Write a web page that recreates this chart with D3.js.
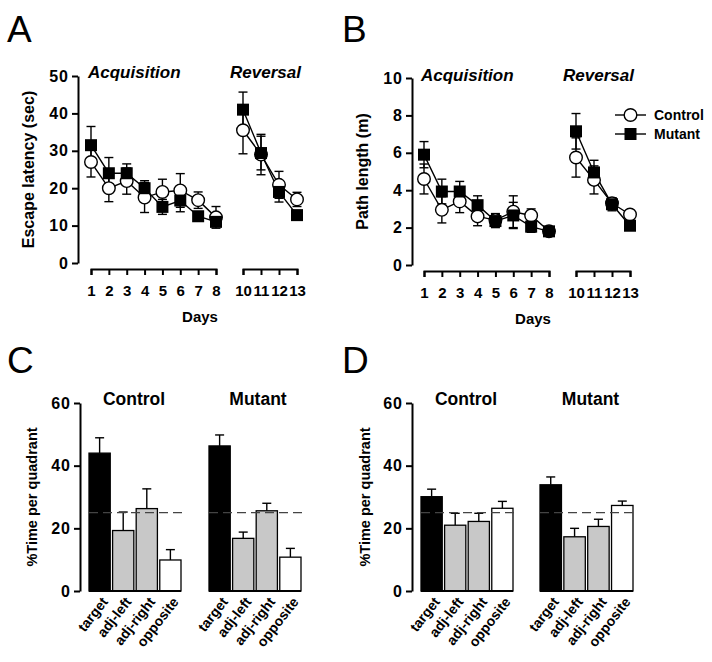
<!DOCTYPE html>
<html><head><meta charset="utf-8">
<script src="https://cdn.jsdelivr.net/npm/d3@7"></script>
<style>body{margin:0;background:#fff}svg{display:block}text{font-family:"Liberation Sans",Arial,sans-serif}</style>
</head><body><svg id="c" width="712" height="662"></svg>
<script>
// ---- data ----
const days = [1,2,3,4,5,6,7,8,10,11,12,13];
const acqDays = [1,2,3,4,5,6,7,8];
const revDays = [10,11,12,13];
const latencyControl    = [27.0,20.0,21.9,17.5,19.0,19.4,16.8,12.2, 35.5,29.0,20.9,17.0];
const latencyControlErr = [4.0,3.6,3.5,4.0,3.4,4.5,2.2,2.9, 6.3,5.4,3.6,1.9];
const latencyMutant     = [31.5,24.0,24.0,20.0,15.0,16.7,12.5,11.0, 41.0,29.4,19.0,12.8];
const latencyMutantErr  = [5.0,4.2,2.5,2.0,2.0,3.0,1.0,1.0, 4.7,4.5,2.7,1.0];
const pathControl    = [4.6,2.95,3.4,2.6,2.4,2.85,2.65,1.8, 5.75,4.55,3.3,2.7];
const pathControlErr = [0.8,0.7,0.6,0.5,0.35,0.85,0.35,0.2, 1.05,0.75,0.3,0.2];
const pathMutant     = [5.9,3.93,3.93,3.2,2.35,2.65,2.05,1.8, 7.15,4.95,3.25,2.1];
const pathMutantErr  = [0.7,0.66,0.54,0.5,0.35,0.7,0.3,0.2, 0.95,0.65,0.35,0.2];
const latencyTicks = [0,10,20,30,40,50];
const pathTicks = [0,2,4,6,8,10];
const quadrants = ["target","adj-left","adj-right","opposite"];
const quadFill = ["#000000","#c8c8c8","#c8c8c8","#ffffff"];
const probeCControl = [44.0,19.3,26.3,9.9], probeCControlErr = [4.9,5.9,6.3,3.3];
const probeCMutant  = [46.3,16.8,25.6,10.8], probeCMutantErr = [3.5,2.0,2.4,2.8];
const probeDControl = [30.1,21.0,22.2,26.4], probeDControlErr = [2.4,3.8,2.6,2.2];
const probeDMutant  = [33.9,17.3,20.6,27.3], probeDMutantErr = [2.5,2.7,2.3,1.4];
const probeTicks = [0,20,40,60];
const chanceLevel = 25;

const svg = d3.select("#c");
const FONT = '"Liberation Sans",Arial,sans-serif';

function panelLetter(t,x,y){
  svg.append("text").attr("x",x).attr("y",y).attr("font-size",37).text(t);
}
panelLetter("A",7,42); panelLetter("B",342,42); panelLetter("C",7,373); panelLetter("D",342,373);

function styleAxis(g,fs,ls){
  g.selectAll("path,line").attr("stroke","#000").attr("stroke-width",2);
  g.selectAll("text").attr("font-size",fs).attr("font-weight","bold").attr("font-family",FONT).attr("fill","#000")
   .attr("letter-spacing",ls||0);
}

function linePanel(o){
  const y = d3.scaleLinear().domain(o.yDomain).range(o.yRange);
  const x = d3.scaleLinear().domain([1,8,10,13]).range(o.xRange);
  const ya = svg.append("g").attr("transform",`translate(${o.axisX},0)`)
    .call(d3.axisLeft(y).tickValues(o.ticks).tickSize(6).tickSizeOuter(0).tickPadding(3));
  styleAxis(ya,16,1);
  [acqDays,revDays].forEach(seg=>{
    const xs = x.copy().domain([seg[0],seg[seg.length-1]]).range([x(seg[0]),x(seg[seg.length-1])]);
    const xa = svg.append("g").attr("transform",`translate(0,${o.axisY})`)
      .call(d3.axisBottom(xs).tickValues(seg).tickFormat(d3.format("d")).tickSize(6).tickSizeOuter(6).tickPadding(10));
    styleAxis(xa,15,0);
  });
  svg.append("text").attr("x",(o.xRange[0]+o.xRange[3])/2+6).attr("y",o.axisY+53)
    .attr("text-anchor","middle").attr("font-size",15).attr("font-weight","bold").text("Days");
  svg.append("text").attr("transform",`translate(${o.labelX},${(o.yRange[0]+o.yRange[1])/2}) rotate(-90)`)
    .attr("text-anchor","middle").attr("font-size",16).attr("font-weight","bold").text(o.ylabel);
  svg.append("text").attr("x",x(1)-3).attr("y",o.titleY).attr("font-size",17).attr("font-weight","bold")
    .attr("font-style","italic").text("Acquisition");
  svg.append("text").attr("x",x(10)-13).attr("y",o.titleY).attr("font-size",17).attr("font-weight","bold")
    .attr("font-style","italic").text("Reversal");
  const series = [
    {v:o.control, e:o.controlErr, shape:"circle"},
    {v:o.mutant, e:o.mutantErr, shape:"square"}
  ];
  const line = d3.line().x(d=>x(d.d)).y(d=>y(d.v));
  series.forEach(s=>{
    const pts = days.map((d,i)=>({d, v:s.v[i], e:s.e[i]}));
    [pts.slice(0,8), pts.slice(8)].forEach(seg=>{
      svg.append("path").attr("d",line(seg)).attr("fill","none").attr("stroke","#000").attr("stroke-width",1.4);
    });
    s.pts = pts;
  });
  series.forEach(s=>{
    const g = svg.append("g");
    s.pts.forEach(p=>{
      g.append("line").attr("x1",x(p.d)).attr("x2",x(p.d)).attr("y1",y(p.v-p.e)).attr("y2",y(p.v+p.e)).attr("stroke","#000").attr("stroke-width",1.4);
      [p.v-p.e,p.v+p.e].forEach(v=>g.append("line").attr("x1",x(p.d)-4.5).attr("x2",x(p.d)+4.5).attr("y1",y(v)).attr("y2",y(v)).attr("stroke","#000").attr("stroke-width",1.4));
    });
  });
  series.forEach(s=>{
    s.pts.forEach(p=>{
      if(s.shape==="circle") svg.append("circle").attr("cx",x(p.d)).attr("cy",y(p.v)).attr("r",6.3).attr("fill","#fff").attr("stroke","#000").attr("stroke-width",1.4);
      else svg.append("rect").attr("x",x(p.d)-6).attr("y",y(p.v)-6).attr("width",12).attr("height",12).attr("fill","#000");
    });
  });
  if(o.legend){
    const L = o.legend;
    [["Control","circle"],["Mutant","square"]].forEach((r,i)=>{
      const yy = L.y + i*19;
      svg.append("line").attr("x1",L.x).attr("x2",L.x+31).attr("y1",yy).attr("y2",yy).attr("stroke","#000").attr("stroke-width",1.4);
      if(r[1]==="circle") svg.append("circle").attr("cx",L.x+15.5).attr("cy",yy).attr("r",6.3).attr("fill","#fff").attr("stroke","#000").attr("stroke-width",1.4);
      else svg.append("rect").attr("x",L.x+9.5).attr("y",yy-6).attr("width",12).attr("height",12).attr("fill","#000");
      svg.append("text").attr("x",L.x+39).attr("y",yy+5).attr("font-size",14).attr("font-weight","bold").text(r[0]);
    });
  }
}

linePanel({yDomain:[0,50], yRange:[263,76], ticks:latencyTicks, axisX:78, xRange:[91,216,243,297], axisY:269,
  ylabel:"Escape latency (sec)", labelX:34, titleY:78,
  control:latencyControl, controlErr:latencyControlErr, mutant:latencyMutant, mutantErr:latencyMutantErr});
linePanel({yDomain:[0,10], yRange:[265,78], ticks:pathTicks, axisX:412, xRange:[424,549,576,630], axisY:271,
  ylabel:"Path length (m)", labelX:368, titleY:81,
  control:pathControl, controlErr:pathControlErr, mutant:pathMutant, mutantErr:pathMutantErr,
  legend:{x:615,y:115}});

function barPanel(o){
  const y = d3.scaleLinear().domain([0,60]).range([591,403]);
  const ya = svg.append("g").attr("transform",`translate(${o.axisX},0)`)
    .call(d3.axisLeft(y).tickValues(probeTicks).tickSize(6).tickSizeOuter(0).tickPadding(3));
  styleAxis(ya,16,1);
  svg.append("text").attr("transform",`translate(${o.labelX},497) rotate(-90)`)
    .attr("text-anchor","middle").attr("font-size",14.5).attr("font-weight","bold").text("%Time per quadrant");
  o.groups.forEach(gr=>{
    const x = d3.scaleBand().domain(quadrants).range(gr.range).paddingInner(0.1).paddingOuter(0);
    const g = svg.append("g");
    quadrants.forEach((q,i)=>{
      const cx = x(q)+x.bandwidth()/2;
      g.append("line").attr("x1",cx).attr("x2",cx).attr("y1",y(gr.v[i])).attr("y2",y(gr.v[i]+gr.e[i])).attr("stroke","#000").attr("stroke-width",1.4);
      g.append("line").attr("x1",cx-4.5).attr("x2",cx+4.5).attr("y1",y(gr.v[i]+gr.e[i])).attr("y2",y(gr.v[i]+gr.e[i])).attr("stroke","#000").attr("stroke-width",1.4);
      g.append("rect").attr("x",x(q)).attr("y",y(gr.v[i])).attr("width",x.bandwidth()).attr("height",y(0)-y(gr.v[i]))
        .attr("fill",quadFill[i]).attr("stroke","#000").attr("stroke-width",1.3);
      g.append("text").attr("transform",`translate(${cx+9},${y(0)+11}) rotate(-52)`).attr("text-anchor","end")
        .attr("font-size",14).attr("font-weight","bold").text(q);
    });
    g.append("line").attr("x1",gr.range[0]).attr("x2",gr.range[1]).attr("y1",y(0)).attr("y2",y(0)).attr("stroke","#000").attr("stroke-width",2);
    g.append("line").attr("x1",gr.range[0]).attr("x2",gr.range[1]+3).attr("y1",y(chanceLevel)).attr("y2",y(chanceLevel))
      .attr("stroke","#444").attr("stroke-width",1.4).attr("stroke-dasharray","9,5");
    svg.append("text").attr("x",(gr.range[0]+gr.range[1])/2+gr.dx).attr("y",405).attr("text-anchor","middle")
      .attr("font-size",17.5).attr("font-weight","bold").text(gr.title);
  });
}
barPanel({axisX:80, labelX:37, groups:[
  {title:"Control", range:[89,181], dx:-1, v:probeCControl, e:probeCControlErr},
  {title:"Mutant", range:[209,301], dx:3, v:probeCMutant, e:probeCMutantErr}]});
barPanel({axisX:412, labelX:370, groups:[
  {title:"Control", range:[421,513], dx:-1, v:probeDControl, e:probeDControlErr},
  {title:"Mutant", range:[540,633], dx:4, v:probeDMutant, e:probeDMutantErr}]});
</script></body></html>
